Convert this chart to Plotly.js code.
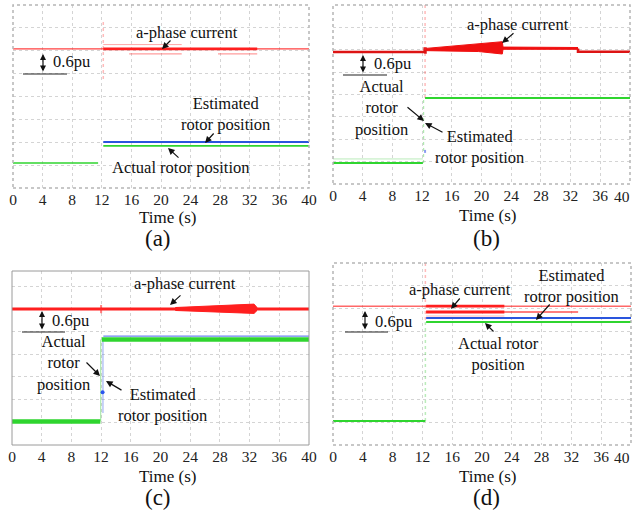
<!DOCTYPE html>
<html>
<head>
<meta charset="utf-8">
<script src="https://cdn.plot.ly/plotly-3.0.1.min.js"></script>
<style>html,body{margin:0;padding:0;background:#fff;}#chart{width:633px;height:516px;}</style>
</head>
<body>
<div id="chart"></div>
<script>
// ---------- DATA (time in s, signal level in oscilloscope divisions) ----------
const timeTicks = [0, 4, 8, 12, 16, 20, 24, 28, 32, 36, 40];
const panelLabels = ["(a)", "(b)", "(c)", "(d)"];

// Panel (a)
const a_curT = [0, 40],                 a_curY = [6.08, 6.08];
const a_curDenseT = [12.2, 33],         a_curDenseY = [6.08, 6.08];
const a_rippleUpT = [12.2, 22.8],       a_rippleUpY = [6.27, 6.27];
const a_rippleLowT = [15.7, 22.8, null, 27.7, 33], a_rippleLowY = [5.86, 5.86, null, 5.86, 5.86];
const a_transT = [12.2, 12.2],          a_transY = [7.26, 4.72];
const a_actT = [0, 11.5, null, 12.2, 40], a_actY = [1.09, 1.09, null, 1.84, 1.84];
const a_estT = [12.2, 40],              a_estY = [2.01, 2.01];
const a_refY = [6.08, 1.09];

// Panel (b)
const b_curT = [0, 12.35, 12.35, 12.45, 12.45, null, 33, 33, 40];
const b_curY = [5.90, 5.90, 6.05, 6.05, 5.82, null, 6.06, 5.91, 5.91];
const b_bandT = [12.5, 19.6, 22.8, 22.9, 33];
const b_bandLow = [5.96, 5.92, 5.81, 6.02, 6.02];
const b_bandUp  = [6.06, 6.29, 6.36, 6.12, 6.10];
const b_transT = [12.4, 12.4],          b_transY = [8, 3.75];
const b_actT = [0, 12.1, null, 12.4, 40], b_actY = [0.94, 0.94, null, 3.84, 3.84];
const b_actGhostT = [0, 12.1],          b_actGhostY = [1.12, 1.12];
const b_actStepT = [12.2, 12.2],        b_actStepY = [0.94, 3.84];
const b_estT = [12.4, 12.4],            b_estY = [1.39, 1.65];
const b_refY = [5.90, 0.63];

// Panel (c)
const c_curT = [0, 40],                 c_curY = [5.99, 5.99];
const c_bandT = [22, 32.6, 33];
const c_bandLow = [5.93, 5.80, 5.93];
const c_bandUp  = [6.06, 6.21, 6.06];
const c_blipT = [12, 12],               c_blipY = [6.17, 5.81];
const c_actT = [0, 11.9, null, 12.1, 40], c_actY = [1.04, 1.04, null, 4.65, 4.65];
const c_actStepT = [11.95, 11.95],      c_actStepY = [1.04, 4.65];
const c_estT = [12.3, 40],              c_estY = [4.80, 4.80];
const c_estStepT = [12.25, 12.25],      c_estStepY = [1.41, 4.63];
const c_estDotT = [12.2],               c_estDotY = [2.33];
const c_refY = [5.99, 1.06];

// Panel (d)
const d_curT = [0, 40],                 d_curY = [6.10, 6.10];
const d_curDenseT = [12.5, 23],         d_curDenseY = [6.10, 6.10];
const d_cur2T = [12.5, 32.9],           d_cur2Y = [5.85, 5.85];
const d_cur2DenseT = [12.5, 23],        d_cur2DenseY = [5.85, 5.85];
const d_cur3T = [12.5, 23],             d_cur3Y = [5.67, 5.67];
const d_transT = [12.4, 12.4],          d_transY = [8, 5.5];
const d_estT = [12.5, 40],              d_estY = [5.58, 5.58];
const d_actT = [0, 12.4, null, 12.5, 40], d_actY = [1.05, 1.05, null, 5.41, 5.41];
const d_actStepT = [12.4, 12.4],        d_actStepY = [1.05, 5.41];
const d_refY = [6.10, 1.01];

// ---------- STYLE ----------
const W = 633, H = 516;
const RED = "#ff1f1f", RED_D = "#dd1414", GREEN = "#2fd52f", BLUE = "#2a55dd";
const SERIF = "Liberation Serif";
const px = x => x / W, py = y => 1 - y / H;

function L(n, t, y, color, width, name, dash) {
  return {type: "scatter", mode: "lines", x: t, y: y, xaxis: "x" + (n === 1 ? "" : n), yaxis: "y" + (n === 1 ? "" : n),
    line: {color: color, width: width, dash: dash || "solid"}, name: name, showlegend: false, hoverinfo: "skip", connectgaps: false};
}
function band(n, t, lo, up, color, name) {
  const ax = n === 1 ? "" : n;
  return [
    {type: "scatter", mode: "lines", x: t, y: lo, xaxis: "x" + ax, yaxis: "y" + ax, line: {color: color, width: 1}, showlegend: false, hoverinfo: "skip", name: name},
    {type: "scatter", mode: "lines", x: t, y: up, xaxis: "x" + ax, yaxis: "y" + ax, line: {color: color, width: 1}, fill: "tonexty", fillcolor: color, showlegend: false, hoverinfo: "skip", name: name}
  ];
}
function refMarks(n, y) {
  const ax = n === 1 ? "" : n;
  return {type: "scatter", mode: "markers", x: [-0.35, -0.35], y: y, xaxis: "x" + ax, yaxis: "y" + ax,
    marker: {symbol: "triangle-right", size: 7, color: "#111"}, cliponaxis: false, showlegend: false, hoverinfo: "skip"};
}

const traces = [
  // (a)
  L(1, a_curT, a_curY, "rgba(255,30,30,0.85)", 1.3, "a-phase current"),
  L(1, a_curDenseT, a_curDenseY, RED, 2.6, "a-phase current"),
  L(1, a_rippleUpT, a_rippleUpY, "rgba(255,60,60,0.45)", 1, "a-phase current"),
  L(1, a_rippleLowT, a_rippleLowY, "rgba(255,60,60,0.5)", 1.2, "a-phase current"),
  L(1, a_transT, a_transY, "rgba(255,60,60,0.35)", 1.5, "a-phase current", "dot"),
  L(1, a_actT, a_actY, GREEN, 1.6, "Actual rotor position"),
  L(1, a_estT, a_estY, BLUE, 2, "Estimated rotor position"),
  refMarks(1, a_refY),
  // (b)
  L(2, b_curT, b_curY, RED_D, 2.6, "a-phase current"),
  ...band(2, b_bandT, b_bandLow, b_bandUp, "#f01010", "a-phase current"),
  L(2, b_transT, b_transY, "rgba(255,60,60,0.35)", 1.5, "a-phase current", "dot"),
  L(2, b_actGhostT, b_actGhostY, "rgba(60,200,60,0.35)", 1, "Actual rotor position"),
  L(2, b_actStepT, b_actStepY, "rgba(60,200,60,0.4)", 1.2, "Actual rotor position", "dot"),
  L(2, b_actT, b_actY, GREEN, 2, "Actual rotor position"),
  L(2, b_estT, b_estY, "rgba(60,90,230,0.6)", 2, "Estimated rotor position", "dot"),
  refMarks(2, b_refY),
  // (c)
  L(3, c_curT, c_curY, RED, 3, "a-phase current"),
  ...band(3, c_bandT, c_bandLow, c_bandUp, RED, "a-phase current"),
  L(3, c_blipT, c_blipY, "rgba(255,40,40,0.6)", 2, "a-phase current"),
  L(3, c_actStepT, c_actStepY, "rgba(60,200,60,0.5)", 1, "Actual rotor position"),
  L(3, c_estStepT, c_estStepY, "rgba(90,120,235,0.55)", 1.2, "Estimated rotor position"),
  L(3, c_estT, c_estY, "rgba(70,100,235,0.8)", 1.3, "Estimated rotor position"),
  L(3, c_actT, c_actY, GREEN, 4.5, "Actual rotor position"),
  {type: "scatter", mode: "markers", x: c_estDotT, y: c_estDotY, xaxis: "x3", yaxis: "y3", marker: {color: "#2a55ee", size: 4}, showlegend: false, hoverinfo: "skip", name: "Estimated rotor position"},
  refMarks(3, c_refY),
  // (d)
  L(4, d_curT, d_curY, "rgba(255,40,40,0.7)", 1.5, "a-phase current"),
  L(4, d_curDenseT, d_curDenseY, RED, 2.8, "a-phase current"),
  L(4, d_cur2T, d_cur2Y, "rgba(255,40,40,0.8)", 1.5, "a-phase current"),
  L(4, d_cur2DenseT, d_cur2DenseY, RED, 3, "a-phase current"),
  L(4, d_cur3T, d_cur3Y, "rgba(255,60,60,0.35)", 1, "a-phase current"),
  L(4, d_transT, d_transY, "rgba(255,60,60,0.35)", 1.5, "a-phase current", "dot"),
  L(4, d_actStepT, d_actStepY, "rgba(60,200,60,0.35)", 1.5, "Actual rotor position", "dot"),
  L(4, d_estT, d_estY, BLUE, 2, "Estimated rotor position"),
  L(4, d_actT, d_actY, GREEN, 2, "Actual rotor position"),
  refMarks(4, d_refY)
];

// panel boxes in pixels: [left, right, top, bottom]
const boxes = [[13, 309, 5, 188], [333, 630, 5, 184], [12, 309, 271, 445], [333, 631, 263, 445]];
const yRanges = [[0, 8], [0, 8], [0, 7.67], [0, 8]];
// right-hand panels reach the page edge: their last tick label is set flush right instead
const edgePanels = [false, true, false, true];

const layout = {
  width: W, height: H, margin: {l: 0, r: 0, t: 0, b: 0},
  paper_bgcolor: "#fff", plot_bgcolor: "#fff", showlegend: false,
  font: {family: SERIF, color: "#111"},
  annotations: [], shapes: []
};

function txt(text, x, y, size, xanchor) {
  layout.annotations.push({text: text, xref: "paper", yref: "paper", x: px(x), y: py(y), showarrow: false,
    xanchor: xanchor || "center", yanchor: "middle", font: {family: SERIF, size: size || 16.5, color: "#111"}});
}

boxes.forEach((b, i) => {
  const k = i === 0 ? "" : String(i + 1);
  const labels = timeTicks.map((v, j) => (edgePanels[i] && j === timeTicks.length - 1) ? "" : String(v));
  layout["xaxis" + k] = {domain: [px(b[0]), px(b[1])], anchor: "y" + k, range: [0, 40], tickmode: "array", tickvals: timeTicks,
    ticktext: labels, ticks: "", showgrid: true, gridcolor: "#d4d4d4", griddash: "dot", gridwidth: 1,
    zeroline: false, showline: false, fixedrange: true, ticklabeloverflow: "allow",
    tickfont: {family: SERIF, size: 15.5, color: "#222"}, automargin: false};
  layout["yaxis" + k] = {domain: [py(b[3]), py(b[2])], anchor: "x" + k, range: yRanges[i], tick0: 0, dtick: 1,
    showticklabels: false, ticks: "", showgrid: true, gridcolor: "#d4d4d4", griddash: "dot", gridwidth: 1,
    zeroline: false, showline: false, fixedrange: true, automargin: false};
  layout.shapes.push({type: "rect", xref: "x" + k + " domain", yref: "y" + k + " domain", x0: 0, x1: 1, y0: 0, y1: 1,
    line: {color: i === 2 ? "#9a9a9a" : "#b5b5b5", width: i === 2 ? 1 : 1.5, dash: i === 2 ? "solid" : "dot"}});
  if (edgePanels[i]) {
    layout.annotations.push({text: String(timeTicks[timeTicks.length - 1]), xref: "paper", yref: "paper", x: 1, y: py(b[3] + 12),
      showarrow: false, xanchor: "right", yanchor: "middle", xshift: -1, font: {family: SERIF, size: 15.5, color: "#222"}});
  }
});

function arrow(hx, hy, tx, ty) {
  layout.annotations.push({text: "", xref: "paper", yref: "paper", x: px(hx), y: py(hy), ax: tx - hx, ay: ty - hy,
    showarrow: true, arrowhead: 2, arrowsize: 1.1, arrowwidth: 1.2, arrowcolor: "#111"});
}
function puMark(x, yTop, yBot, lx0, lx1, tx, ty) {
  layout.annotations.push({text: "", xref: "paper", yref: "paper", x: px(x), y: py(yTop), ax: 0, ay: yBot - yTop,
    showarrow: true, arrowhead: 2, startarrowhead: 2, arrowside: "end+start", arrowsize: 1, arrowwidth: 1.2, arrowcolor: "#111"});
  layout.shapes.push({type: "line", xref: "paper", yref: "paper", x0: px(lx0), x1: px(lx1), y0: py(yBot + 1), y1: py(yBot + 1),
    line: {color: "#222", width: 1.2}});
  txt("0.6pu", tx, ty, 16.5, "left");
}

// (a)
txt("a-phase current", 187, 32); arrow(162, 49, 172, 39);
txt("Estimated<br>rotor position", 225, 114); arrow(205, 143, 215, 132);
txt("Actual rotor position", 180, 167); arrow(168, 148, 180, 159);
puMark(43, 54, 73, 23, 67, 51, 62);
// (b)
txt("a-phase current", 518, 25); arrow(502, 43, 515, 32);
txt("Actual<br>rotor<br>position", 381, 108); arrow(424, 121, 406, 106);
txt("Estimated<br>rotor position", 480, 147); arrow(425, 123, 444, 133);
puMark(363, 55, 74, 343, 387, 372, 63);
// (c)
txt("a-phase current", 185, 283); arrow(170, 305, 182, 294);
txt("Actual<br>rotor<br>position", 63, 363); arrow(100, 376, 85, 361);
txt("Estimated<br>rotor position", 162, 405); arrow(106, 381, 123, 391);
puMark(42, 311, 331, 22, 65, 50, 320);
// (d)
txt("a-phase current", 460, 289); arrow(451, 309, 461, 297);
txt("Estimated<br>rotror position", 571, 286); arrow(536, 320, 551, 303);
txt("Actual rotor<br>position", 498, 354); arrow(485, 323, 495, 333);
puMark(365, 311, 331, 345, 388, 373, 321);

// axis titles and panel labels
const titleXY = [[167, 217], [487, 215], [167, 476], [487, 476]];
const labelXY = [[158, 239], [486, 239], [158, 497], [486, 497]];
titleXY.forEach(p => txt("Time (s)", p[0], p[1], 17));
labelXY.forEach((p, i) => txt(panelLabels[i], p[0], p[1], 23));

Plotly.newPlot("chart", traces, layout, {staticPlot: true, displayModeBar: false});
</script>
</body>
</html>
